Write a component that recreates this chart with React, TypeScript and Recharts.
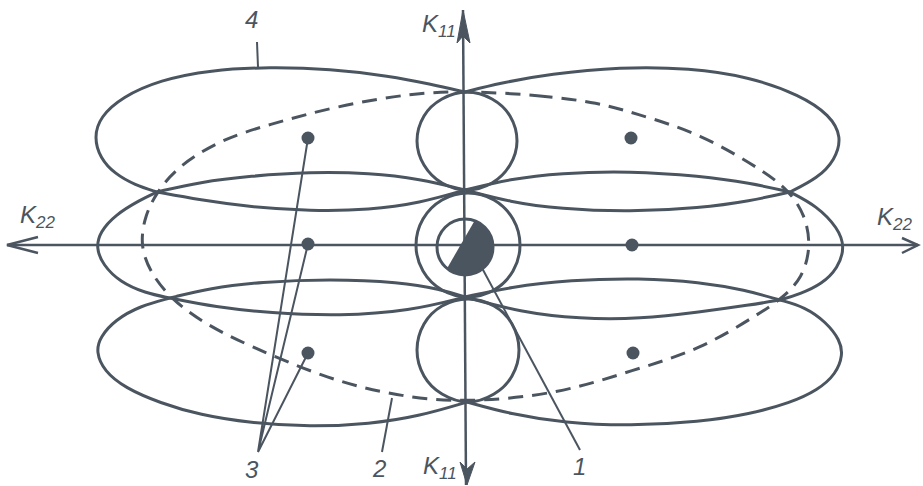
import { ComposedChart, Line, Scatter, XAxis, YAxis } from 'recharts'

// units: 1 = 10 px of the original drawing, origin at the well (centre of the cross)
const INK = '#4b5560'
const FONT = "'Liberation Sans', Arial, sans-serif"

// big outer loops (node -> node)
const topLoopLeft = [[0, 15.3], [-3.5, 16.1], [-7.5, 16.9], [-13.5, 17.6], [-19.5, 17.8], [-25.5, 17.5], [-30.5, 16.5], [-34.3, 14.8], [-36.5, 12.8], [-37.1, 10.8], [-36.5, 8.7], [-35.0, 7.1], [-33.0, 6.0], [-30.8, 5.3]]
const topLoopRight = [[0, 15.3], [3.5, 16.2], [8.5, 17.1], [15.5, 17.8], [22.5, 17.7], [28.5, 16.8], [33.5, 15.0], [36.5, 13.0], [37.7, 10.8], [37.0, 8.5], [35.3, 6.7], [32.5, 5.3]]
const midLoopLeft = [[-30.8, 5.3], [-32.5, 4.5], [-35.0, 3.0], [-36.5, 1.3], [-36.9, -0.3], [-36.2, -2.0], [-34.5, -3.7], [-32.0, -4.8], [-29.5, -5.3]]
const midLoopRight = [[32.5, 5.3], [35.2, 3.9], [37.3, 1.7], [38.0, -0.2], [37.3, -2.3], [35.7, -3.9], [33.5, -4.9], [31.5, -5.5]]
const botLoopLeft = [[-29.5, -5.3], [-32.5, -6.1], [-35.0, -7.5], [-36.5, -9.2], [-36.9, -10.7], [-36.1, -12.6], [-34.0, -14.3], [-30.5, -15.8], [-26.5, -17.0], [-21.5, -17.8], [-15.5, -18.2], [-9.5, -17.9], [-4.5, -17.1], [0.2, -15.7]]
const botLoopRight = [[31.5, -5.5], [34.0, -6.2], [36.1, -7.7], [37.5, -9.5], [37.8, -11.0], [37.1, -12.9], [35.3, -14.5], [32.5, -15.8], [28.5, -16.9], [23.5, -17.7], [16.5, -18.1], [10.0, -17.8], [4.5, -16.9], [0.2, -15.7]]

// lens arcs between the side nodes and the axis
const upLensLeftTop = [[-30.8, 5.3], [-26.5, 6.3], [-21.5, 6.9], [-15.5, 7.3], [-9.5, 7.2], [-4.5, 6.6], [0, 5.5]]
const upLensLeftBot = [[-30.8, 5.3], [-26.5, 4.5], [-21.5, 3.8], [-15.5, 3.4], [-9.5, 3.5], [-4.5, 4.2], [0, 5.5]]
const upLensRightTop = [[0, 5.5], [4.5, 6.6], [9.5, 7.2], [16.5, 7.4], [23.5, 6.9], [28.5, 6.2], [32.5, 5.3]]
const upLensRightBot = [[0, 5.5], [4.5, 4.3], [9.5, 3.6], [16.5, 3.3], [23.5, 3.7], [28.5, 4.4], [32.5, 5.3]]
const loLensLeftTop = [[-29.5, -5.3], [-25.5, -4.3], [-20.5, -3.7], [-13.5, -3.4], [-6.5, -3.7], [-2.5, -4.4], [0, -5.2]]
const loLensLeftBot = [[-29.5, -5.3], [-25.0, -6.2], [-19.5, -6.8], [-12.5, -7.1], [-5.5, -6.6], [0, -5.2]]
const loLensRightTop = [[0, -5.2], [4.5, -4.2], [10.5, -3.5], [17.5, -3.3], [23.5, -3.7], [28.0, -4.5], [31.5, -5.5]]
const loLensRightBot = [[0, -5.2], [5.5, -6.7], [11.5, -7.4], [17.5, -7.4], [23.5, -6.7], [28.5, -6.0], [31.5, -5.5]]

// small circles on the K11 axis
const circleTop = [[0.2, 15.3], [2.7, 14.6], [4.5, 12.9], [5.2, 10.4], [4.5, 8.0], [2.7, 6.2], [0.2, 5.5], [-2.3, 6.2], [-4.1, 8.0], [-4.8, 10.4], [-4.1, 12.9], [-2.3, 14.6]]
const circleMid = [[0.3, 5.2], [2.9, 4.5], [4.8, 2.6], [5.5, 0], [4.8, -2.6], [2.9, -4.5], [0.3, -5.2], [-2.3, -4.5], [-4.2, -2.6], [-4.9, 0], [-4.2, 2.6], [-2.3, 4.5]]
const circleBot = [[0.3, -5.4], [2.9, -6.1], [4.7, -7.9], [5.4, -10.5], [4.7, -13.1], [2.9, -14.9], [0.3, -15.7], [-2.3, -14.9], [-4.1, -13.1], [-4.8, -10.5], [-4.1, -7.9], [-2.3, -6.1]]

// dashed ellipse (2)
const ellipse = [[0, 15.4], [7.5, 15.0], [13.5, 14.2], [16.8, 13.2], [23.5, 11.2], [30.2, 7.2], [32.5, 5.3], [34.0, 3.0], [34.6, 0], [33.8, -3.3], [31.5, -5.5], [29.5, -6.8], [23.5, -10.5], [16.8, -12.5], [9.5, -14.9], [-0.2, -15.8], [-6.8, -15.1], [-13.5, -13.5], [-21.8, -10.0], [-26.2, -7.8], [-29.5, -5.3], [-31.5, -2.7], [-32.5, 0], [-32.0, 3.0], [-30.8, 5.3], [-28.8, 7.8], [-24.5, 10.5], [-19.8, 12.0], [-12.8, 13.9], [-5.2, 15.2]]

// wells (3) and the central well (1)
const wells = [[-15.7, 10.7], [16.6, 10.7], [-15.7, 0.1], [16.7, 0], [-15.7, -10.8], [16.8, -10.8]]
const centralWell = [[0, -0.2]]

// axes
const axisK22 = [[-45.8, 0], [45.3, 0]]
const axisK11 = [[-0.2, 23.5], [0.1, -24.0]]
const arrowLeft = [[-42.7, 0.8], [-45.8, 0], [-42.7, -0.8]]
const arrowRight = [[43.7, 0.7], [45.3, 0], [43.7, -0.8]]
const arrowTips = [[-0.2, 23.5, 1], [0.2, -24.0, -1]]

// leader lines
const lead4 = [[-20.8, 20.3], [-20.7, 17.8]]
const lead3 = [[-15.7, 10.7], [-20.7, -20.7], [-15.7, 0.1], [-20.7, -20.7], [-15.7, -10.8]]
const lead2 = [[-8.3, -20.7], [-7.3, -15.3]]
const lead1 = [[11.5, -20.5], [1.7, -2.3]]

// labels
const labelText = ['K', 'K', 'K', 'K', '4', '3', '2', '1']
const labelSub = ['11', '22', '22', '11', '', '', '', '']
const labelX = [-4.3, -44.5, 41.2, -4.2, -22.0, -22.0, -9.2, 10.8]
const labelY = [21.3, 2.2, 2.0, -22.9, 21.7, -23.3, -23.2, -23.0]

const pts = (a: number[][]) => a.map(([x, y]) => ({ x, y }))

const labels = labelText.map((t, i) => ({ x: labelX[i], y: labelY[i], text: t, sub: labelSub[i] }))

// closed Catmull-Rom curve for d3 line
const closedCurve = (context: any) => {
  let p: number[][] = []
  return {
    areaStart() {},
    areaEnd() {},
    lineStart() { p = [] },
    point(x: number, y: number) { p.push([x, y]) },
    lineEnd() {
      const n = p.length
      if (n < 3) return
      context.moveTo(p[0][0], p[0][1])
      for (let i = 0; i < n; i++) {
        const a = p[(i + n - 1) % n], b = p[i], c = p[(i + 1) % n], d = p[(i + 2) % n]
        context.bezierCurveTo(
          b[0] + (c[0] - a[0]) / 6, b[1] + (c[1] - a[1]) / 6,
          c[0] - (d[0] - b[0]) / 6, c[1] - (d[1] - b[1]) / 6,
          c[0], c[1]
        )
      }
      context.closePath()
    },
  }
}

const openCurves = [
  topLoopLeft, topLoopRight, midLoopLeft, midLoopRight, botLoopLeft, botLoopRight,
  upLensLeftTop, upLensLeftBot, upLensRightTop, upLensRightBot,
  loLensLeftTop, loLensLeftBot, loLensRightTop, loLensRightBot,
]
const circles = [circleTop, circleMid, circleBot]
const straight = [axisK22, axisK11, arrowLeft, arrowRight]
const leaders = [lead4, lead3, lead2, lead1]

const WellDot = (p: any) => <circle cx={p.cx} cy={p.cy} r={6.5} fill={INK} />

const WellMain = (p: any) => {
  const r = 28
  const a1 = (-70 * Math.PI) / 180
  const a2 = (130 * Math.PI) / 180
  const x1 = p.cx + r * Math.cos(a1), y1 = p.cy + r * Math.sin(a1)
  const x2 = p.cx + r * Math.cos(a2), y2 = p.cy + r * Math.sin(a2)
  return (
    <g>
      <path d={`M${x1},${y1} A${r},${r} 0 1 1 ${x2},${y2} Z`} fill={INK} />
      <circle cx={p.cx} cy={p.cy} r={r} fill="none" stroke={INK} strokeWidth={3} />
    </g>
  )
}

const ArrowHead = (p: any) => {
  const dir = p.payload.dir
  const { cx, cy } = p
  const d = dir > 0
    ? `M${cx},${cy} L${cx - 6},${cy + 33} L${cx},${cy + 26} L${cx + 7},${cy + 33} Z`
    : `M${cx},${cy} L${cx - 7},${cy - 23} L${cx},${cy - 16} L${cx + 8},${cy - 23} Z`
  return <path d={d} fill={INK} stroke={INK} strokeWidth={1} />
}

const LabelShape = (p: any) => {
  const d = p.payload
  return (
    <text x={p.cx} y={p.cy} fill={INK} fontFamily={FONT} fontStyle="italic" fontSize={24}>
      {d.text}
      {d.sub ? <tspan fontSize={17} dy={5}>{d.sub}</tspan> : null}
    </text>
  )
}

export default function App() {
  return (
    <div style={{ position: 'absolute', left: 0, top: 0, width: 923, height: 486, background: '#fff' }}>
      <ComposedChart width={923} height={486} margin={{ top: 0, right: 0, bottom: 0, left: 0 }}>
        <XAxis type="number" dataKey="x" domain={[-46.5, 45.8]} allowDataOverflow hide />
        <YAxis type="number" dataKey="y" domain={[-24.1, 24.5]} allowDataOverflow hide />

        {straight.map((s, i) => (
          <Line key={`ax-${i}`} data={pts(s)} dataKey="y" type="linear" stroke={INK} strokeWidth={2.5}
            dot={false} activeDot={false} legendType="none" isAnimationActive={false} />
        ))}
        {leaders.map((s, i) => (
          <Line key={`ld-${i}`} data={pts(s)} dataKey="y" type="linear" stroke={INK} strokeWidth={2}
            dot={false} activeDot={false} legendType="none" isAnimationActive={false} />
        ))}
        <Line data={pts(ellipse)} dataKey="y" type="basisClosed" stroke={INK} strokeWidth={3}
          strokeDasharray="15 9" dot={false} activeDot={false} legendType="none" isAnimationActive={false} />
        {openCurves.map((s, i) => (
          <Line key={`c-${i}`} data={pts(s)} dataKey="y" type="basis" stroke={INK} strokeWidth={3}
            dot={false} activeDot={false} legendType="none" isAnimationActive={false} />
        ))}
        {circles.map((s, i) => (
          <Line key={`o-${i}`} data={pts(s)} dataKey="y" type={closedCurve as any} stroke={INK} strokeWidth={3}
            dot={false} activeDot={false} legendType="none" isAnimationActive={false} />
        ))}

        <Scatter data={pts(wells)} shape={WellDot} legendType="none" isAnimationActive={false} />
        <Scatter data={pts(centralWell)} shape={WellMain} legendType="none" isAnimationActive={false} />
        <Scatter data={arrowTips.map(([x, y, dir]) => ({ x, y, dir }))} shape={ArrowHead} legendType="none" isAnimationActive={false} />
        <Scatter data={labels} shape={LabelShape} legendType="none" isAnimationActive={false} />
      </ComposedChart>
    </div>
  )
}
